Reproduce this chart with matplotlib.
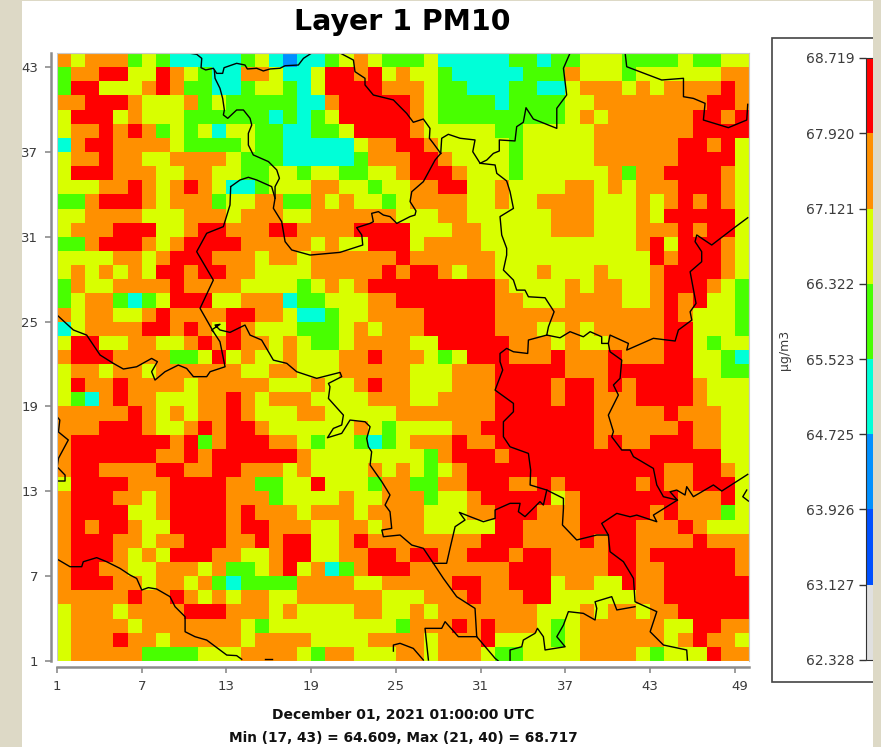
import matplotlib

matplotlib.use('Agg')
import matplotlib.pyplot as plt
import numpy as np
from matplotlib.colors import BoundaryNorm, ListedColormap
from matplotlib.patches import Rectangle
from matplotlib.transforms import ScaledTranslation

# --- Colour scale ---
LEVELS = [62.328, 63.127, 63.926, 64.725, 65.523, 66.322, 67.121, 67.920, 68.719]
BIN_COLORS = ['#E0E0E0', '#0050FF', '#0090FF', '#00FFD8', '#48FF00', '#D8FF00', '#FF9000', '#FF0000']

# cell classes -> representative concentration of that bin
CLASS_VALUES = {'B': 64.3, 'C': 65.1, 'G': 65.9, 'Y': 66.7, 'O': 67.5, 'R': 68.3}

# --- Layer 1 PM10 cells, row 43 first, columns 1..49 ---
GRID_ROWS = [
    "OYOOOGYGCCCCCGYCBCCGYOYGG" "GYCCCCCGGCGGYYYGGGGYGGYY",
    "GOORRYYROYGCCOOYCCYRRORYO" "YYGCCCCCGGGOYYYGYYYYYYOO",
    "GRRYYYOROGGCCGYYGCYRRRROO" "OYGGCCCGGCCYOOOYOYOOOORO",
    "OORRROYYYOGYGGGGGCCORRRRR" "OYGGGGCGGGGYYOOOOOOOORRO",
    "YRRRYOYYYGGGGGGCGCGYRRRRR" "OYGGGGGGGGGYOYOOOOOORROR",
    "YOOROROGYGYCYYGGCCGGYRRRR" "OYYYYYGGYYYYYOOOOOOORRRR",
    "CORROOOOYGGGGYGGCCCCCYOOR" "ROYYYYYGYYYYYOOOOOORRORY",
    "YOOROOYYOOOOYGGGCCCCCGOOO" "RROYYYYGYYYYYOOOOOORRRRY",
    "YRRROOOYYOOYYGGYYGYYGGYYO" "RRROYYYGYYYYYYOGOORRRROY",
    "YYYOOROYOROYCCGYYYOOYYGYY" "OORRYYOYYYYOOYOYOOORRROY",
    "GGORRROYOOOGYYOOGGOYOYYGY" "OOOOYYOYYOOOOYYYOYOROROY",
    "YYOOOOYYYOOOYOOOYYOOOOOOY" "YYOOYYYYYYOOOYYYOYRRRRRY",
    "YOOORRRYYORROOORROOOORRRR" "YYYOOYYYYYOOOYYYOOORORRY",
    "GGORRROYORRRROOOOOYOYYRRR" "YOOOOYYYYYYYYYYYORYRRROY",
    "YYYYOOYORRROOOYOOYOOOOOOR" "OOOOOOYYYYYYYYYYYRORRROY",
    "YOYOYOYRRORROOYYYYOOOOORO" "RROYOOYYYOYYYOYYYORRRROY",
    "GOYYOOOOROOOOYYYYGYOYORRR" "RRRRRROYYYYOYOOYYORRROYG",
    "GYOOGCGYRRRYYOOOCGGYYYOOR" "RRRRRROOYYYOOOOYYORORYYG",
    "OYOOYYOROOOORROOYCCGYYOOO" "ORRRRROOOOOOOOOOOOROYYYG",
    "CYOOOORROROYROYYYGGGYOYOO" "ORRRRROOOYYOYOOOOORRYYYG",
    "YRRYYOOYYOROROOYOYGGYOOOO" "YYRRRRROOOYOYYOOOORRYGYY",
    "ORRROOOOGGYRYOYYOYYYOOROO" "OYGYRRROOOROOOROOORRYYGC",
    "YOOYOOYOOOOOOYYOOYYYOOOOO" "YYYOOORRRRROOORRRRRRYYGG",
    "YROOROOOOYOOOOOYYYOYYOROO" "YYYOOORRRRORRORORRRROYYY",
    "YGCOROOYYYOOROYOOOYYYYOOO" "YYOOOORRRRORROOORRRROYYY",
    "OOOOOROYOYOOROYYYOOYYYYYO" "OOOOOORRRRRRROOOOOROOOYY",
    "OOORRROYYORORROYYYYYYOYGY" "YYYOORRRRRRRROOOOOOROOYY",
    "ORRRRRRRORGORRROOYGYYGCGY" "OOOROORRRRRRROROORRROOYY",
    "ORRRRRROORORRRRRROYYYYYYY" "YGORRRORRRRRRRRRRRRRRRYY",
    "ORROOOORROORROOOYOYYYYOYO" "YGYORRRRRRRRRRRRRROORROY",
    "YRRRROOORRRROOGGYYRYYYGOO" "GGOORRROORORRRRROROORRRY",
    "ORRROOYORRRROOOGYYYYOYYOO" "OGYYORRRRRYORRRRRRROOORY",
    "ORRRRYYORRRROROOOYOOOYOOO" "OYYYOORRROOORRRRRORO" "OOGY",
    "ORORROYYRRRRORROOOYYOOYOO" "OYYYYYRROOOORRRROOOROYYY",
    "ORRROOYOORRROORORRYYOROOO" "OOOOORRROOOORORROOOOROOO",
    "ORRROYOYRRROOYYORRYYOORRO" "RROORRRORROOOORRORRRRRRO",
    "ORROOYYOOOYOGGYORYOCGORRR" "OOOOOOORRROOOORROORRRRRO",
    "ORRROOYOOYOGCGGGGOOOOYYOO" "OOORROORRRYOOYYROORRRRRR",
    "OOOOOROOROYOYOOYYOOOOOOYY" "YOOOROOORRYYYYYYOORRRRRR",
    "YOOOYOOOORRROOOYOYYYYOOYY" "OYOOOOOOOYYYOYOOYOORRRRR",
    "YOOOOYOOOOOOOYGYYYYYYYYYG" "OOOROROOOYGYOOOOOOYYRROO",
    "YOOOROOYOOOOOYOOOOYYYYOOO" "OYOOORYYYYGYOOOOOOYOROOY",
    "YOOOOOGGGGYYYOOOOYGOOYYYO" "OYOOOYGGYYYYOOOOYGYYYROO",
]

# --- Country borders in grid coordinates (column, row) ---
BORDERS = [
    [(10.30, 44), (10.89, 43.91), (11.25, 43.62), (11.20, 42.96), (11.53, 42.80), (12.07, 42.92), (12.31, 42.56),
     (12.73, 42.56), (12.83, 42.96), (13.72, 43.27), (14.31, 43.15), (14.48, 42.87), (15.14, 42.92), (15.61, 42.73),
     (16.08, 42.87), (16.79, 42.92), (17.15, 43.10), (18.09, 43.15), (18.45, 43.62), (19.04, 44)],
    [(12.14, 42.80), (12.19, 42.21), (12.54, 41.50), (12.73, 40.79), (12.85, 39.97), (12.78, 39.62), (13.09, 39.38),
     (13.72, 39.97), (14.20, 39.97), (14.67, 39.38), (14.79, 38.91), (14.55, 38.32), (14.55, 37.49), (14.90, 36.79),
     (15.97, 36.32), (16.56, 35.73), (16.75, 35.14), (16.44, 34.55), (16.44, 33.72)],
    [(13.30, 34.55), (13.96, 35.02), (14.55, 35.21), (15.14, 35.02), (16.20, 34.55), (16.44, 33.72), (16.32, 33.02),
     (16.91, 32.07), (17.15, 30.66), (17.62, 30.07), (18.92, 29.71), (21.04, 29.90), (22.65, 30.42), (22.58, 31.13),
     (22.22, 31.65), (23.17, 31.95), (23.40, 32.07), (23.28, 32.66), (23.76, 32.78), (24.11, 32.54), (24.58, 32.43),
     (25.06, 31.95), (26.00, 32.43), (26.35, 32.54), (26.42, 32.83), (26.00, 33.49), (26.12, 34.19), (26.94, 34.90),
     (27.77, 36.43), (28.17, 36.90)],
    [(21.04, 44), (21.99, 43.50), (22.10, 42.68), (22.81, 42.21), (22.81, 41.74), (23.40, 41.03), (24.82, 40.68),
     (25.29, 40.20), (25.76, 39.73), (26.23, 39.10), (26.94, 39.33), (27.41, 38.67), (27.37, 37.97), (27.65, 37.61),
     (28.17, 36.90)],
    [(28.17, 36.90), (28.24, 37.97), (28.71, 38.25), (29.54, 37.97), (30.60, 37.85), (30.44, 37.02), (30.96, 36.20),
     (32.02, 36.08), (32.14, 35.49), (32.84, 34.95), (33.08, 34.19), (33.32, 33.01), (32.37, 32.43), (32.49, 31.13),
     (32.84, 30.19), (32.84, 29.71), (32.61, 28.65), (33.32, 27.94), (33.55, 27.23), (34.14, 27.23), (34.38, 26.76),
     (35.56, 26.69), (36.20, 25.70), (35.80, 24.64), (35.68, 24.05)],
    [(35.68, 24.05), (34.38, 23.70), (34.33, 22.75), (33.32, 22.87), (32.84, 23.11), (32.37, 22.75), (32.37, 22.17),
     (32.56, 21.58), (32.02, 20.16), (33.32, 19.22), (33.32, 18.63), (32.61, 17.92), (32.61, 16.86), (33.08, 16.15),
     (34.38, 15.68), (34.54, 14.50), (34.50, 13.45), (35.68, 13.09), (36.86, 12.50), (36.86, 11.80), (36.79, 10.62),
     (37.80, 9.56), (39.22, 9.91), (40.04, 9.91), (40.16, 8.73), (41.11, 8.02), (41.82, 6.84), (41.93, 5.19),
     (43.47, 4.49), (43.00, 3.07), (43.94, 2.13), (45.59, 1.78), (45.64, 1.07)],
    [(35.68, 24.05), (36.62, 23.86), (37.33, 24.29), (38.27, 23.93), (38.75, 24.29), (39.57, 23.93), (39.57, 23.46),
     (40.04, 23.46), (40.16, 24.05), (41.46, 23.46), (41.34, 22.99), (43.23, 23.82), (44.77, 23.63), (45.00, 24.41),
     (45.95, 25.11), (45.83, 25.70), (46.25, 26.29), (45.83, 28.53), (46.65, 29.24), (46.65, 29.95), (46.18, 30.66),
     (46.30, 31.13), (47.36, 30.42), (48.90, 31.60), (49.91, 32.35)],
    [(40.04, 23.46), (40.16, 22.87), (40.99, 22.28), (40.87, 20.99), (40.40, 20.52), (40.75, 19.81), (40.04, 18.39),
     (40.40, 17.22), (40.28, 16.86), (40.99, 15.92), (41.58, 15.92), (41.82, 15.45), (43.23, 14.62), (43.47, 13.45),
     (43.94, 12.62), (44.93, 12.38), (44.41, 12.97), (44.88, 13.09), (45.47, 12.74), (45.59, 13.33), (46.06, 12.62),
     (47.48, 13.45), (48.07, 13.02), (49.91, 14.20)],
    [(44.93, 12.38), (43.23, 11.32), (43.47, 10.85), (42.05, 11.32), (41.58, 11.20), (40.64, 11.44), (39.57, 10.73),
     (40.04, 9.91)],
    [(35.68, 13.09), (35.44, 12.03), (35.20, 12.27), (34.14, 11.21), (33.67, 11.56), (33.79, 12.15), (33.08, 12.15),
     (32.02, 11.68), (32.02, 11.09), (31.19, 10.85), (30.25, 11.21), (29.49, 11.51), (29.89, 10.97), (29.19, 10.50),
     (28.83, 8.97), (28.59, 7.91), (27.65, 7.91), (26.94, 8.97), (26.12, 9.20), (25.29, 9.91), (24.11, 9.79),
     (24.00, 10.26), (24.70, 10.38), (24.58, 11.56), (24.23, 12.03), (24.58, 12.74), (24.00, 13.68), (23.17, 14.86),
     (23.28, 15.80), (23.05, 16.15), (22.93, 16.74), (23.17, 17.57), (22.81, 17.92), (21.75, 18.04), (21.16, 17.10),
     (20.15, 16.79), (20.57, 17.45), (21.16, 17.69), (21.28, 18.39), (20.22, 19.57), (20.33, 20.40), (20.22, 20.63),
     (21.16, 21.11), (21.04, 21.41), (19.39, 20.99), (17.97, 21.46), (17.27, 22.05), (16.32, 22.28), (15.49, 23.70),
     (14.67, 24.05), (14.31, 24.76), (13.25, 24.24), (12.54, 24.41), (12.19, 24.76), (12.54, 24.81), (11.95, 24.41),
     (12.07, 24.29)],
    [(13.30, 34.55), (13.25, 33.25), (12.78, 31.72), (11.60, 31.25), (10.89, 29.95), (12.07, 27.94), (11.13, 25.94),
     (12.07, 24.29), (12.54, 23.58), (12.90, 21.81), (11.84, 21.46), (11.60, 21.11), (10.66, 21.11), (10.18, 21.69),
     (9.59, 21.93), (8.65, 21.46), (7.94, 20.87), (7.70, 21.46), (8.11, 22.17), (7.70, 22.40), (6.64, 21.81),
     (5.70, 21.65), (4.99, 22.05), (4.05, 22.64), (3.10, 24.05), (2.16, 24.41), (1, 25.47)],
    [(1, 8.21), (1.92, 7.67), (2.75, 7.67), (2.86, 8.02), (3.81, 8.31), (4.52, 8.02), (5.46, 7.55), (6.17, 7.08),
     (6.64, 6.84), (7.00, 6.02), (7.47, 6.19), (8.06, 6.09), (9.00, 5.55), (9.36, 4.84), (10.07, 4.13), (10.07, 3.07),
     (10.77, 2.72), (11.60, 2.48), (13.02, 1.42), (13.72, 1.38), (14.08, 1.12)],
    [(15.73, 1.14), (16.20, 1.14)],
    [(1, 18.28), (1.20, 18.04), (1.10, 17.20), (1.80, 16.63), (1.10, 15.33), (1, 14.62)],
    [(1, 14.74), (1.57, 14.15), (1.57, 13.73), (1, 13.73)],
    [(49.84, 13.09), (49.56, 12.62), (49.96, 12.31)],
    [(27.65, 7.91), (28.36, 6.84), (29.30, 5.55), (30.60, 4.72), (30.72, 2.72), (32.02, 1.19), (32.25, 1)],
    [(30.72, 2.72), (29.42, 2.72), (28.48, 3.78), (28.24, 3.31), (27.06, 3.31), (27.30, 1.07)],
    [(24.82, 1.70), (24.82, 2.13), (25.29, 2.25), (26.23, 1.89), (26.94, 1.07)],
    [(33.08, 1), (33.08, 1.78), (33.91, 2.01), (34.02, 2.48), (34.85, 2.96), (35.02, 3.31), (35.44, 2.72),
     (35.56, 1.78), (36.98, 2.01), (36.39, 2.72), (36.86, 3.54), (37.21, 4.49), (38.27, 4.37), (39.10, 3.90),
     (39.22, 4.72), (39.10, 5.19), (40.28, 5.55), (40.64, 4.61), (41.93, 4.84)],
    [(30.96, 36.20), (31.43, 36.43), (31.90, 36.90), (32.32, 37.07), (32.32, 37.85), (33.43, 37.78), (33.55, 38.79),
     (34.02, 39.10), (34.21, 40.13), (34.73, 39.33), (36.39, 38.67), (36.39, 40.09), (37.09, 41.03), (36.86, 42.92),
     (37.33, 44)],
    [(41.23, 44), (41.34, 43.03), (43.82, 42.09), (45.36, 42.21), (45.36, 40.91), (46.06, 40.79), (46.89, 40.44),
     (46.77, 39.26), (48.54, 38.72), (49.84, 39.26), (49.91, 40.37)],
]

X_TICKS = [1, 7, 13, 19, 25, 31, 37, 43, 49]
Y_TICKS = [1, 7, 13, 19, 25, 31, 37, 43]

TITLE = "Layer 1 PM10"
FOOTER_1 = "December 01, 2021 01:00:00 UTC"
FOOTER_2 = "Min (17, 43) = 64.609, Max (21, 40) = 68.717"
UNITS = "µg/m3"

W, H = 881, 747
BEIGE = '#DDD9C6'
SPINE_GRAY = '#8C8C8C'
TEXT_GRAY = '#3C3C3C'


def px_rect(left, top, right, bottom):
    # pixel box of the picture -> figure fractions
    return [left / W, 1 - bottom / H, (right - left) / W, (bottom - top) / H]


for row in GRID_ROWS:
    assert len(row) == 49, row
assert len(GRID_ROWS) == 43

grid = np.array([[CLASS_VALUES[c] for c in row] for row in GRID_ROWS[::-1]])

fig = plt.figure(figsize=(W / 100, H / 100), dpi=100, facecolor='white')
cmap = ListedColormap(BIN_COLORS)
norm = BoundaryNorm(LEVELS, cmap.N)

ax = fig.add_axes(px_rect(57, 53, 749, 661))
mesh = ax.pcolormesh(np.arange(1, 51), np.arange(1, 45), grid, cmap=cmap, norm=norm)
for line in BORDERS:
    xs, ys = zip(*line)
    ax.plot(xs, ys, color='black', lw=1.0, solid_joinstyle='round', zorder=3)

ax.set_xlim(1, 50)
ax.set_ylim(1, 44)
ax.set_xticks(X_TICKS)
ax.set_yticks(Y_TICKS)
ax.tick_params(axis='both', length=4, width=1.2, color=SPINE_GRAY, labelsize=9.5, labelcolor=TEXT_GRAY, pad=5.5)
for side in ('left', 'bottom'):
    ax.spines[side].set_position(('outward', 4))
    ax.spines[side].set_color(SPINE_GRAY)
    ax.spines[side].set_linewidth(1.8)
for side in ('top', 'right'):
    ax.spines[side].set_color('#C8C8C8')
    ax.spines[side].set_linewidth(0.8)
ax.add_patch(Rectangle((0, 0), 1, 1, transform=ax.transAxes, fill=False, edgecolor='#C8C8C8', lw=0.8, zorder=4))

# the last x label sits a bit right of its tick in the original
last_label = ax.get_xticklabels()[-1]
last_label.set_transform(last_label.get_transform() + ScaledTranslation(0.05, 0, fig.dpi_scale_trans))

# colour key, cut off by the right page margin like in the screenshot
fig.add_artist(Rectangle((772 / W, 1 - 682 / H), 110 / W, 644 / H, transform=fig.transFigure,
                         facecolor='white', edgecolor='#444444', lw=1.2, zorder=0))
cax = fig.add_axes(px_rect(866, 58, 881, 660), zorder=2)
cbar = fig.colorbar(mesh, cax=cax, ticks=LEVELS, spacing='proportional')
cbar.ax.yaxis.set_ticks_position('left')
cbar.ax.set_yticklabels([f'{v:.3f}' for v in LEVELS])
cbar.ax.tick_params(length=5, width=1, color='#333333', labelsize=10, labelcolor=TEXT_GRAY, pad=3.5)
cbar.outline.set_edgecolor('#333333')
fig.text(785 / W, 1 - 350 / H, UNITS, rotation=90, ha='center', va='center', fontsize=9, color=TEXT_GRAY)

fig.text(402 / W, 1 - 22 / H, TITLE, ha='center', va='center', fontsize=20.4, fontweight='bold', color='black')
fig.text(403 / W, 1 - 715 / H, FOOTER_1, ha='center', va='center', fontsize=10, fontweight='bold', color='#111111')
fig.text(403 / W, 1 - 738 / H, FOOTER_2, ha='center', va='center', fontsize=9.9, fontweight='bold', color='#111111')

# page margins of the screenshot
for x0, x1, y0, y1 in [(0, 22, 0, H), (873, 881, 0, H), (0, W, 0, 1)]:
    fig.add_artist(Rectangle((x0 / W, 1 - y1 / H), (x1 - x0) / W, (y1 - y0) / H, transform=fig.transFigure,
                             facecolor=BEIGE, edgecolor='none', zorder=10))

fig.savefig('out.png', dpi=100)
plt.close(fig)
